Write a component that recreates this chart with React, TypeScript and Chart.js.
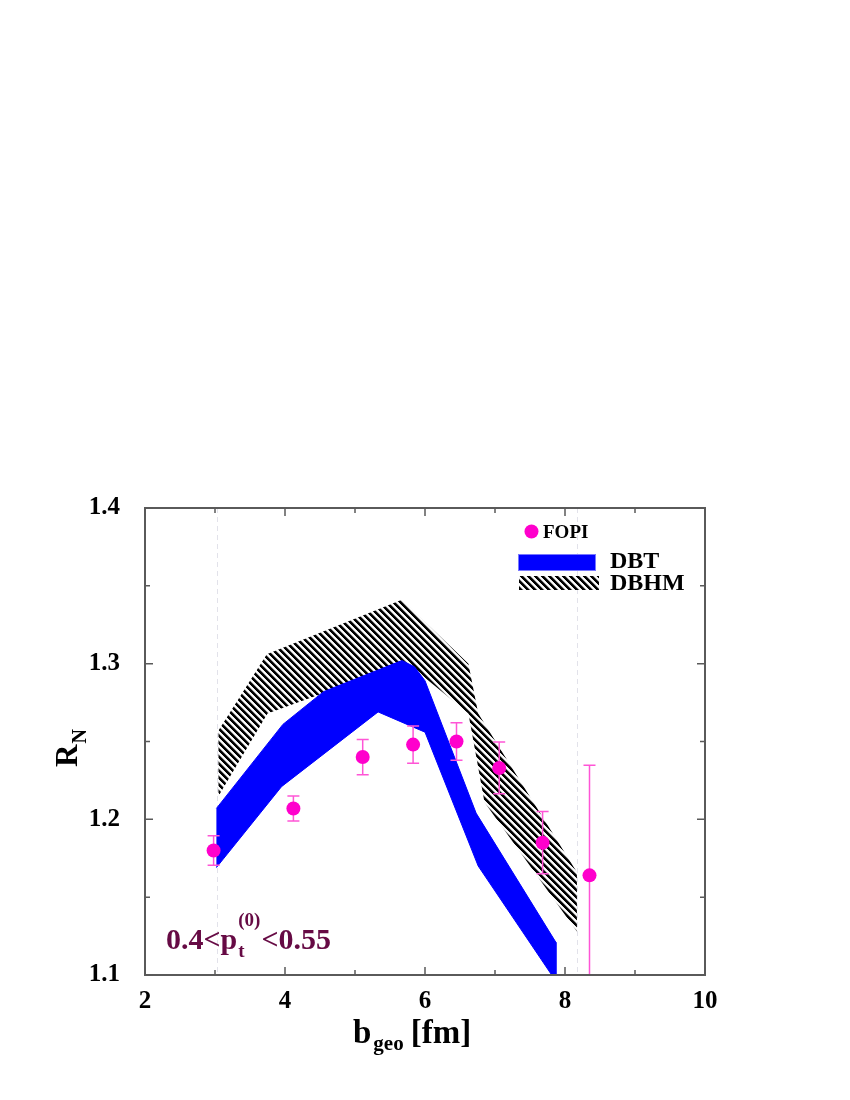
import React, { useEffect, useRef } from 'react';
import { Chart, registerables } from 'chart.js';

Chart.register(...registerables);

// ---- Data ----
const fopiB = [2.98, 4.12, 5.11, 5.83, 6.45, 7.06, 7.68, 8.35];
const fopiR = [1.180, 1.207, 1.240, 1.248, 1.250, 1.233, 1.185, 1.164];
const fopiErr = [0.0095, 0.008, 0.0113, 0.012, 0.012, 0.0166, 0.020, 0.0707];

const dbtUpperB = [3.02, 3.97, 4.55, 5.67, 5.85, 6.0, 6.73, 7.87];
const dbtUpperR = [1.207, 1.261, 1.282, 1.302, 1.298, 1.289, 1.204, 1.121];
const dbtLowerB = [3.02, 3.95, 5.33, 6.0, 6.76, 7.81, 7.87];
const dbtLowerR = [1.169, 1.221, 1.269, 1.256, 1.170, 1.100, 1.093];

const dbhmUpperB = [3.05, 3.74, 5.67, 6.62, 6.76, 8.17];
const dbhmUpperR = [1.257, 1.306, 1.341, 1.300, 1.268, 1.166];
const dbhmLowerB = [3.05, 3.75, 5.7, 6.0, 6.62, 6.85, 8.17];
const dbhmLowerR = [1.215, 1.268, 1.300, 1.291, 1.268, 1.211, 1.128];

const guideB = [3.03, 8.17];

const xMajor = [2, 4, 6, 8, 10];
const xMinor = [3, 5, 7, 9];
const yMajor = [1.1, 1.2, 1.3, 1.4];
const yMinor = [1.15, 1.25, 1.35];

const seriesLabels = ['FOPI', 'DBT', 'DBHM'];

const SERIF = '"Liberation Serif", "Times New Roman", serif';
const MAGENTA = '#ff00cc';
const ERRCOL = '#ff55d6';
const BLUE = '#0000ff';
const NOTE = '#660a44';

function polygon(ub: number[], ur: number[], lb: number[], lr: number[]) {
  const pts = ub.map((b, i) => ({ x: b, y: ur[i] }));
  for (let i = lb.length - 1; i >= 0; i--) pts.push({ x: lb[i], y: lr[i] });
  return pts;
}

function makeHatch(): CanvasPattern | string {
  const p = 7;
  const shades = [0, 0, 0, 110, 235, 255, 235];
  const c = document.createElement('canvas');
  c.width = p;
  c.height = p;
  const cx = c.getContext('2d');
  if (!cx) return '#000';
  const img = cx.createImageData(p, p);
  for (let y = 0; y < p; y++) {
    for (let x = 0; x < p; x++) {
      const d = (((x - y) % p) + p) % p;
      const v = shades[d];
      const k = (y * p + x) * 4;
      img.data[k] = v;
      img.data[k + 1] = v;
      img.data[k + 2] = v;
      img.data[k + 3] = 255;
    }
  }
  cx.putImageData(img, 0, 0);
  const pat = cx.createPattern(c, 'repeat');
  return pat || '#000';
}

export default function App() {
  const ref = useRef<HTMLCanvasElement>(null);

  useEffect(() => {
    const canvas = ref.current;
    if (!canvas) return;
    const hatch = makeHatch();

    const custom = {
      id: 'custom',
      beforeDraw(chart: any) {
        const { ctx, chartArea: a } = chart;
        const xs = chart.scales.x;
        ctx.save();
        ctx.fillStyle = '#fff';
        ctx.fillRect(0, 0, chart.width, chart.height);
        ctx.strokeStyle = '#e2e2ea';
        ctx.lineWidth = 1;
        ctx.setLineDash([5, 4]);
        guideB.forEach((b) => {
          const px = Math.round(xs.getPixelForValue(b)) + 0.5;
          ctx.beginPath();
          ctx.moveTo(px, a.top);
          ctx.lineTo(px, a.bottom);
          ctx.stroke();
        });
        ctx.restore();
      },
      beforeDatasetDraw(chart: any, args: any) {
        if (args.index !== 0) return;
        const { ctx, chartArea: a } = chart;
        const xs = chart.scales.x;
        const ys = chart.scales.y;
        ctx.save();
        ctx.beginPath();
        ctx.rect(a.left, a.top, a.right - a.left, a.bottom - a.top);
        ctx.clip();
        ctx.strokeStyle = ERRCOL;
        ctx.lineWidth = 1.5;
        fopiB.forEach((b, i) => {
          const px = xs.getPixelForValue(b);
          const top = ys.getPixelForValue(fopiR[i] + fopiErr[i]);
          const bot = ys.getPixelForValue(fopiR[i] - fopiErr[i]);
          ctx.beginPath();
          ctx.moveTo(px, top);
          ctx.lineTo(px, bot);
          ctx.moveTo(px - 6, top);
          ctx.lineTo(px + 6, top);
          ctx.moveTo(px - 6, bot);
          ctx.lineTo(px + 6, bot);
          ctx.stroke();
        });
        ctx.restore();
      },
      afterDraw(chart: any) {
        const { ctx, chartArea: a } = chart;
        const xs = chart.scales.x;
        const ys = chart.scales.y;
        ctx.save();
        // frame
        ctx.strokeStyle = '#5a5a5a';
        ctx.lineWidth = 2;
        ctx.strokeRect(a.left, a.top, a.right - a.left, a.bottom - a.top);
        // ticks
        ctx.lineWidth = 1.5;
        const xt = (v: number, len: number) => {
          const px = xs.getPixelForValue(v);
          ctx.beginPath();
          ctx.moveTo(px, a.bottom);
          ctx.lineTo(px, a.bottom - len);
          ctx.moveTo(px, a.top);
          ctx.lineTo(px, a.top + len);
          ctx.stroke();
        };
        const yt = (v: number, len: number) => {
          const py = ys.getPixelForValue(v);
          ctx.beginPath();
          ctx.moveTo(a.left, py);
          ctx.lineTo(a.left + len, py);
          ctx.moveTo(a.right, py);
          ctx.lineTo(a.right - len, py);
          ctx.stroke();
        };
        xMajor.forEach((v) => xt(v, 8));
        xMinor.forEach((v) => xt(v, 5));
        yMajor.forEach((v) => yt(v, 8));
        yMinor.forEach((v) => yt(v, 5));

        ctx.fillStyle = '#000';
        ctx.textAlign = 'left';
        ctx.textBaseline = 'alphabetic';

        // y title R_N
        ctx.save();
        ctx.translate(77, 767);
        ctx.rotate(-Math.PI / 2);
        ctx.font = `bold 31px ${SERIF}`;
        ctx.fillText('R', 0, 0);
        const wr = ctx.measureText('R').width;
        ctx.font = `bold 20px ${SERIF}`;
        ctx.fillText('N', wr + 1, 9);
        ctx.restore();

        // x title b_geo [fm]
        let x = 353;
        ctx.font = `bold 33px ${SERIF}`;
        ctx.fillText('b', x, 1043);
        x += ctx.measureText('b').width + 2;
        ctx.font = `bold 21px ${SERIF}`;
        ctx.fillText('geo', x, 1050);
        x += ctx.measureText('geo').width + 7;
        ctx.font = `bold 33px ${SERIF}`;
        ctx.fillText('[fm]', x, 1043);

        // annotation
        ctx.fillStyle = NOTE;
        let nx = 166;
        ctx.font = `bold 30px ${SERIF}`;
        ctx.fillText('0.4<p', nx, 949);
        nx += ctx.measureText('0.4<p').width;
        ctx.font = `bold 19px ${SERIF}`;
        ctx.fillText('t', nx + 1, 957);
        const wt = ctx.measureText('t').width;
        ctx.fillText('(0)', nx + 1, 926);
        const w0 = ctx.measureText('(0)').width;
        nx += Math.max(wt, w0) + 2;
        ctx.font = `bold 30px ${SERIF}`;
        ctx.fillText('<0.55', nx, 949);

        // legend
        ctx.fillStyle = MAGENTA;
        ctx.beginPath();
        ctx.arc(531.5, 531.5, 7, 0, Math.PI * 2);
        ctx.fill();
        ctx.fillStyle = '#000';
        ctx.font = `bold 19px ${SERIF}`;
        ctx.fillText(seriesLabels[0], 543, 538);

        ctx.fillStyle = BLUE;
        ctx.fillRect(518, 554, 78, 17);
        ctx.strokeStyle = '#7777ff';
        ctx.lineWidth = 1;
        ctx.strokeRect(518.5, 554.5, 77, 16);
        ctx.fillStyle = '#000';
        ctx.font = `bold 24px ${SERIF}`;
        ctx.fillText(seriesLabels[1], 610, 568);

        ctx.fillStyle = hatch as any;
        ctx.fillRect(519, 576, 80, 14);
        ctx.fillStyle = '#000';
        ctx.font = `bold 24px ${SERIF}`;
        ctx.fillText(seriesLabels[2], 610, 590);

        ctx.restore();
      },
    };

    const tickFont = (size: number) => ({ family: SERIF, size, weight: 'bold' as const });

    const chart = new Chart(canvas, {
      type: 'scatter',
      data: {
        datasets: [
          {
            label: seriesLabels[0],
            data: fopiB.map((b, i) => ({ x: b, y: fopiR[i] })),
            backgroundColor: MAGENTA,
            borderColor: MAGENTA,
            borderWidth: 0,
            pointRadius: 7,
            pointHoverRadius: 7,
          } as any,
          {
            label: seriesLabels[1],
            data: polygon(dbtUpperB, dbtUpperR, dbtLowerB, dbtLowerR),
            showLine: true,
            fill: 'shape',
            backgroundColor: BLUE,
            borderColor: BLUE,
            borderWidth: 1,
            pointRadius: 0,
            tension: 0,
          } as any,
          {
            label: seriesLabels[2],
            data: polygon(dbhmUpperB, dbhmUpperR, dbhmLowerB, dbhmLowerR),
            showLine: true,
            fill: 'shape',
            backgroundColor: hatch,
            borderColor: 'rgba(0,0,0,0)',
            borderWidth: 0,
            pointRadius: 0,
            tension: 0,
          } as any,
        ],
      },
      options: {
        responsive: false,
        animation: false,
        devicePixelRatio: 1,
        events: [],
        layout: { padding: { left: 0, top: 508, right: 145, bottom: 0 } },
        plugins: {
          legend: { display: false },
          tooltip: { enabled: false },
        },
        scales: {
          x: {
            type: 'linear',
            min: 2,
            max: 10,
            grid: { display: false },
            border: { display: false },
            ticks: {
              stepSize: 2,
              color: '#000',
              font: tickFont(25),
              padding: 4,
              maxRotation: 0,
              autoSkip: false,
              callback: (v: any) => String(v),
            },
            afterFit: (s: any) => {
              s.height = 125;
            },
          },
          y: {
            type: 'linear',
            min: 1.1,
            max: 1.4,
            grid: { display: false },
            border: { display: false },
            ticks: {
              stepSize: 0.1,
              color: '#000',
              font: tickFont(25),
              padding: 17,
              callback: (v: any) => Number(v).toFixed(1),
            },
            afterFit: (s: any) => {
              s.width = 145;
            },
          },
        },
      } as any,
      plugins: [custom],
    });

    return () => chart.destroy();
  }, []);

  return (
    <div style={{ position: 'absolute', left: 0, top: 0, width: 850, height: 1100 }}>
      <canvas ref={ref} width={850} height={1100} style={{ display: 'block', width: 850, height: 1100 }} />
    </div>
  );
}
